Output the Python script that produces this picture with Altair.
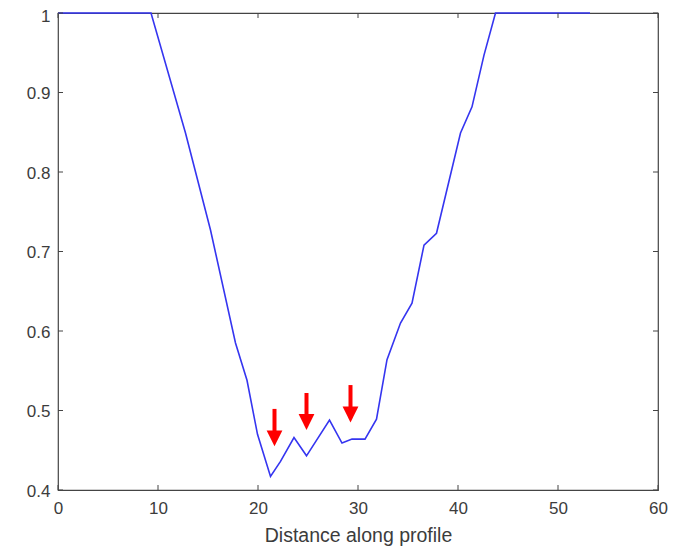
import altair as alt
import pandas as pd

# Profile
distance = [0, 9.3, 12.75, 15.25, 17.75, 18.9, 19.95, 21.25, 22.25, 23.6, 24.85,
            27.15, 28.4, 29.4, 30.7, 31.85, 32.9, 34.25, 35.4, 36.6, 37.85,
            40.25, 41.4, 42.6, 43.75, 53.2]
value = [1, 1, 0.849, 0.727, 0.585, 0.538, 0.47, 0.417, 0.436, 0.466, 0.443,
         0.488, 0.459, 0.464, 0.464, 0.489, 0.564, 0.610, 0.635, 0.708, 0.723,
         0.849, 0.882, 0.947, 1, 1]

# Red arrow annotations (data coordinates)
arrow_x = [21.65, 24.85, 29.25]
arrow_top = [0.502, 0.522, 0.532]
arrow_head_top = [0.474, 0.495, 0.504]
arrow_tip = [0.456, 0.476, 0.486]

x_ticks = [0, 10, 20, 30, 40, 50, 60]
y_ticks = [0.4, 0.5, 0.6, 0.7, 0.8, 0.9, 1.0]

W, H = 600, 477
AXIS_COLOR = "#444444"
TEXT_COLOR = "#3c3c3c"

line_df = pd.DataFrame({"d": distance, "v": value})
arr_df = pd.DataFrame({
    "x": arrow_x,
    "top": arrow_top,
    "head_top": arrow_head_top,
    "tip": arrow_tip,
})
arr_df["head_mid"] = (arr_df["head_top"] + arr_df["tip"]) / 2
xt_df = pd.DataFrame({"x": x_ticks})
yt_df = pd.DataFrame({"y": y_ticks})

xscale = alt.Scale(domain=[0, 60], nice=False, zero=False)
yscale = alt.Scale(domain=[0.4, 1.0], nice=False, zero=False)

line = alt.Chart(line_df).mark_line(color="#3535f0", strokeWidth=1.6).encode(
    x=alt.X("d:Q", scale=xscale,
            axis=alt.Axis(values=x_ticks, title="Distance along profile",
                          domain=False, ticks=False, grid=False, labelFlush=False,
                          labelPadding=10, labelFontSize=17, labelColor=TEXT_COLOR,
                          labelFont="Liberation Sans", titleFont="Liberation Sans",
                          titleFontSize=19.5, titleFontWeight="normal",
                          titleColor=TEXT_COLOR, titlePadding=10)),
    y=alt.Y("v:Q", scale=yscale,
            axis=alt.Axis(values=y_ticks, title=None, domain=False, ticks=False,
                          grid=False, labelFlush=False, labelPadding=8, labelFontSize=17,
                          labelColor=TEXT_COLOR, labelFont="Liberation Sans",
                          labelOffset={"condition": {"test": "datum.value == 1", "value": 3},
                                       "value": 1},
                          labelExpr="datum.value == 1 ? '1' : format(datum.value, '.1f')")),
)

# inward tick marks on all four sides
xt_bottom = alt.Chart(xt_df).mark_rule(color=AXIS_COLOR, strokeWidth=1).encode(
    x=alt.X("x:Q", scale=xscale, axis=None), y=alt.value(H), y2=alt.value(H - 5))
xt_top = alt.Chart(xt_df).mark_rule(color=AXIS_COLOR, strokeWidth=1).encode(
    x=alt.X("x:Q", scale=xscale, axis=None), y=alt.value(0), y2=alt.value(5))
yt_left = alt.Chart(yt_df).mark_rule(color=AXIS_COLOR, strokeWidth=1).encode(
    y=alt.Y("y:Q", scale=yscale, axis=None), x=alt.value(0), x2=alt.value(5))
yt_right = alt.Chart(yt_df).mark_rule(color=AXIS_COLOR, strokeWidth=1).encode(
    y=alt.Y("y:Q", scale=yscale, axis=None), x=alt.value(W), x2=alt.value(W - 5))

shaft = alt.Chart(arr_df).mark_rule(color="#ff0000", strokeWidth=4).encode(
    x=alt.X("x:Q", scale=xscale, axis=None),
    y=alt.Y("top:Q", scale=yscale, axis=None),
    y2="head_top:Q",
)
head = alt.Chart(arr_df).mark_point(
    shape="M-1,-1L1,-1L0,1Z", filled=True, color="#ff0000", opacity=1, size=250,
    strokeWidth=0,
).encode(
    x=alt.X("x:Q", scale=xscale, axis=None),
    y=alt.Y("head_mid:Q", scale=yscale, axis=None),
)

chart = alt.layer(line, xt_bottom, xt_top, yt_left, yt_right, shaft, head).resolve_axis(
    x="independent", y="independent"
).properties(
    width=W, height=H,
    padding={"left": 50, "top": 5, "right": 13, "bottom": 60},
    autosize=alt.AutoSizeParams(type="none"),
    background="white",
).configure_view(stroke=AXIS_COLOR, strokeWidth=1.2)

chart.save("out.html", embed_options={"renderer": "svg", "actions": False})
